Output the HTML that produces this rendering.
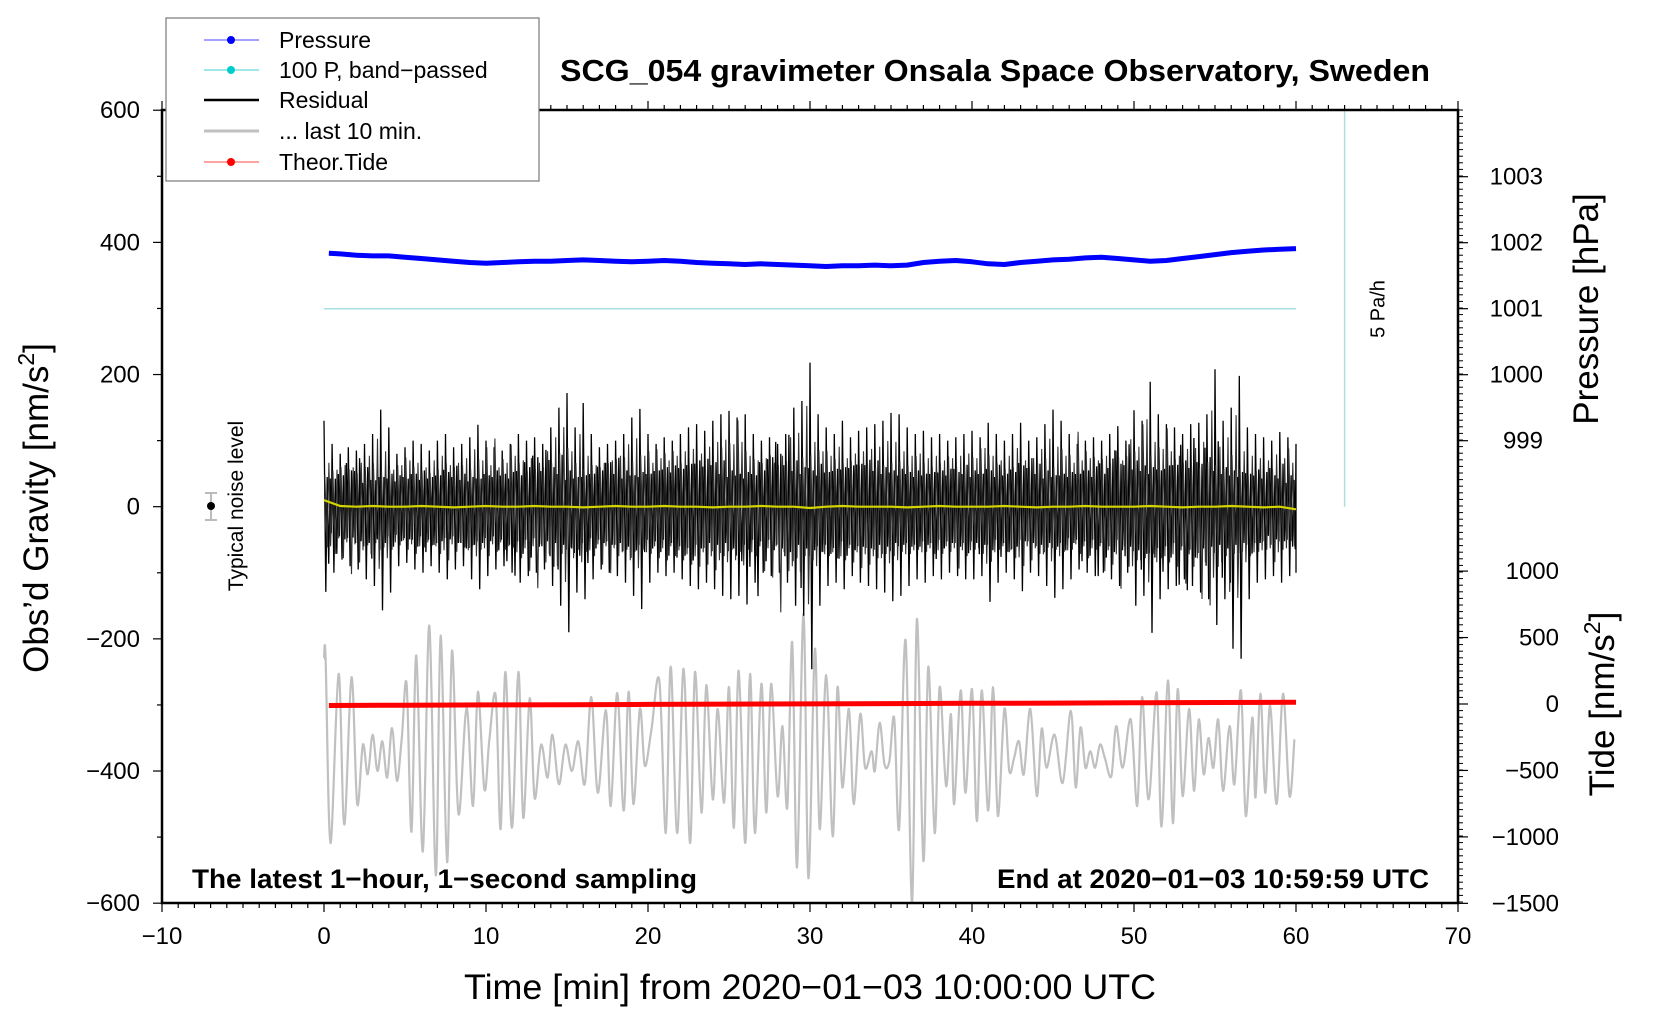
<!DOCTYPE html>
<html><head><meta charset="utf-8"><style>
html,body{margin:0;padding:0;background:#fff}
svg{display:block;font-family:"Liberation Sans",Arial,sans-serif}
</style></head><body>
<svg id="chart" width="1660" height="1020" viewBox="0 0 1660 1020" xmlns="http://www.w3.org/2000/svg">
<rect x="0" y="0" width="1660" height="1020" fill="#fff"/>
<g id="plot"></g>
</svg>
<script>
// ---- data ----
const xTicks = [-10,0,10,20,30,40,50,60,70];
const yTicks = [600,400,200,0,-200,-400,-600];
const pTicks = [999,1000,1001,1002,1003];
const tideTicks = [1000,500,0,-500,-1000,-1500];
// residual envelope every 0.5 min (gravity nm/s^2)
const resUp = [
130,95,80,90,85,95,110,147,120,80,
90,100,95,85,100,110,90,95,105,124,
100,90,85,95,110,100,105,95,120,150,
172,120,157,110,90,95,100,110,135,148,
110,95,105,100,110,120,125,115,130,140,
145,135,140,110,100,105,95,110,150,160,
218,140,120,110,130,105,115,120,125,130,
142,140,120,110,115,105,110,100,105,110,
115,105,127,110,100,110,127,100,105,125,
147,130,110,95,100,105,100,110,122,100,
146,130,189,140,125,120,110,125,127,140,
208,130,150,198,120,110,105,100,113,105,95];
const resDn = [
-129,-100,-80,-90,-95,-110,-120,-157,-130,-90,
-85,-95,-100,-90,-100,-110,-95,-90,-110,-125,
-105,-95,-90,-100,-115,-105,-100,-95,-120,-150,
-190,-130,-140,-110,-95,-100,-105,-115,-135,-155,
-115,-100,-105,-100,-110,-120,-125,-115,-125,-135,
-140,-135,-148,-115,-100,-105,-100,-115,-150,-165,
-246,-150,-120,-115,-125,-105,-115,-120,-125,-130,
-143,-135,-120,-110,-115,-105,-110,-100,-105,-110,
-110,-105,-144,-115,-100,-110,-128,-100,-105,-120,
-138,-125,-110,-95,-100,-105,-100,-110,-120,-100,
-150,-135,-191,-140,-125,-120,-110,-120,-130,-140,
-179,-140,-215,-230,-140,-115,-110,-105,-115,-105,-100];
// yellow smoothed residual every 1 min
const yellowVals = [10,1,0,1,0,0,1,0,-1,0,1,0,0,1,0,0,-1,0,1,0,0,1,0,0,-1,0,0,1,0,0,-2,0,1,0,0,0,-1,0,1,0,0,0,1,0,-1,0,0,1,0,0,0,1,0,-1,0,0,1,0,-1,0,-4];
// pressure every 1 min (hPa)
const pressVals = [1001.84,1001.83,1001.81,1001.80,1001.80,1001.78,1001.76,1001.74,1001.72,1001.70,
1001.69,1001.70,1001.71,1001.72,1001.72,1001.73,1001.74,1001.73,1001.72,1001.71,
1001.72,1001.73,1001.72,1001.70,1001.69,1001.68,1001.67,1001.68,1001.67,1001.66,
1001.65,1001.64,1001.65,1001.65,1001.66,1001.65,1001.66,1001.70,1001.72,1001.73,
1001.71,1001.68,1001.67,1001.70,1001.72,1001.74,1001.75,1001.77,1001.78,1001.76,
1001.74,1001.72,1001.73,1001.76,1001.79,1001.82,1001.85,1001.87,1001.89,1001.90,1001.91];
// theoretical tide every 5 min (nm/s^2, right axis)
const tideVals = [-11,-9,-7,-5,-3,-1,1,3,5,7,9,11,13];
// grey "last 10 min" series: times (min) and gravity values
const greyT = [0,0.1,0.4,0.9,1.25,1.7,2.05,2.4,2.7,3.0,3.3,3.6,3.9,4.2,4.5,4.8,5.1,5.4,5.7,6.1,6.5,6.9,7.2,7.6,7.9,8.3,8.8,9.2,9.5,9.9,10.2,10.6,10.9,11.2,11.6,12.0,12.3,12.7,13.0,13.4,13.8,14.1,14.5,14.9,15.3,15.7,16.1,16.5,16.9,17.4,17.7,18.1,18.5,18.8,19.1,19.5,19.8,20.2,20.7,21.1,21.4,21.8,22.2,22.6,22.9,23.3,23.6,24.0,24.3,24.7,25.0,25.3,25.6,26.0,26.3,26.6,27.0,27.3,27.6,28.0,28.3,28.6,28.9,29.2,29.6,29.9,30.3,30.6,31.0,31.4,31.7,32.0,32.4,32.7,33.1,33.4,33.8,34.0,34.3,34.6,34.9,35.2,35.5,35.9,36.3,36.6,37.0,37.3,37.7,38.0,38.4,38.7,38.9,39.3,39.6,40.0,40.3,40.6,41.0,41.3,41.6,42.0,42.3,42.6,42.9,43.2,43.6,44.0,44.3,44.6,45.1,45.6,46.1,46.4,46.7,47.0,47.3,47.6,47.9,48.2,48.6,48.9,49.3,49.8,50.2,50.5,50.9,51.4,51.7,52.1,52.4,52.7,53.0,53.4,53.7,54.0,54.3,54.6,54.9,55.2,55.5,55.9,56.2,56.6,56.9,57.3,57.5,57.8,58.1,58.4,58.8,59.2,59.6,59.9];
const greyV = [-230,-230,-509,-253,-481,-258,-450,-360,-405,-345,-400,-355,-410,-335,-415,-350,-268,-492,-225,-522,-180,-558,-195,-538,-218,-465,-305,-453,-280,-428,-355,-286,-488,-250,-486,-250,-471,-290,-441,-360,-410,-345,-420,-360,-400,-355,-420,-288,-433,-308,-453,-282,-460,-280,-450,-306,-392,-340,-263,-494,-242,-494,-245,-509,-250,-463,-270,-443,-306,-448,-273,-486,-248,-509,-253,-494,-268,-463,-268,-438,-332,-455,-205,-546,-162,-562,-215,-488,-255,-499,-273,-425,-306,-450,-314,-395,-370,-400,-327,-390,-385,-320,-488,-202,-600,-170,-536,-242,-494,-273,-423,-314,-450,-278,-433,-276,-476,-278,-460,-273,-468,-306,-400,-380,-355,-405,-306,-438,-336,-395,-345,-418,-309,-425,-334,-395,-370,-395,-360,-380,-408,-332,-395,-322,-453,-288,-443,-281,-484,-263,-479,-276,-438,-306,-430,-322,-405,-350,-395,-322,-430,-332,-420,-278,-468,-319,-440,-283,-433,-301,-450,-283,-438,-352];

// ---- scales ----
const X0=162, X1=1458, Y0=110, Y1=903;
const sx = t => X0 + (t+10)/80*(X1-X0);
const sy = g => 506.7 - g*0.6608;
const syP = p => 242.7 - (p-1002)*66;
const syT = v => 704 - v*0.1329;

const NS="http://www.w3.org/2000/svg";
const root=document.getElementById('plot');
function mk(tag, attrs, parent){const e=document.createElementNS(NS,tag);for(const k in attrs)e.setAttribute(k,attrs[k]);(parent||root).appendChild(e);return e;}
function txt(s, attrs, parent){const e=mk('text',attrs,parent);e.textContent=s;return e;}

let e;
e=mk('line',{x1:sx(0),x2:sx(60),y1:syP(1001),y2:syP(1001),stroke:'#a8e0e0','stroke-width':1.5});


e=mk('line',{x1:sx(63),x2:sx(63),y1:Y0,y2:sy(0),stroke:'#a8e0e0','stroke-width':1.5});


e=txt('5 Pa/h',{x:0,y:0,'font-size':20,'text-anchor':'middle',transform:`translate(${sx(63)+40},309) rotate(-90)`});



// grey last 10 min (smooth catmull-rom)
(function(){
  const pts=greyT.map((t,i)=>[sx(t),sy(greyV[i])]);
  let d=`M${pts[0][0]},${pts[0][1]}`;
  for(let i=0;i<pts.length-1;i++){
    const p0=pts[Math.max(0,i-1)],p1=pts[i],p2=pts[i+1],p3=pts[Math.min(pts.length-1,i+2)];
    const c1=[p1[0]+(p2[0]-p0[0])/6,p1[1]+(p2[1]-p0[1])/6];
    const c2=[p2[0]-(p3[0]-p1[0])/6,p2[1]-(p3[1]-p1[1])/6];
    d+=` C${c1[0].toFixed(1)},${c1[1].toFixed(1)} ${c2[0].toFixed(1)},${c2[1].toFixed(1)} ${p2[0].toFixed(1)},${p2[1].toFixed(1)}`;
  }
  const g=mk('path',{d:d,fill:'none',stroke:'#c0c0c0','stroke-width':2.2});
  
  
})();

// residual zigzag
(function(){
  const n=resUp.length;
  const pts=[];
  for(let i=0;i<n;i++){
    const t=i*0.5;
    const a=resUp[(i+3)%n]/resUp[i], b=resDn[(i+7)%n]/resDn[i];
    pts.push(`${sx(t).toFixed(1)},${sy(resUp[i]).toFixed(1)}`);
    pts.push(`${sx(Math.min(60,t+0.11)).toFixed(1)},${sy(resDn[i]).toFixed(1)}`);
    if(i<n-1){
      pts.push(`${sx(t+0.2).toFixed(1)},${sy(resUp[i]*0.5*a).toFixed(1)}`);
      pts.push(`${sx(t+0.29).toFixed(1)},${sy(resDn[i]*0.55*b).toFixed(1)}`);
      pts.push(`${sx(t+0.38).toFixed(1)},${sy(resUp[(i+5)%n]*0.45).toFixed(1)}`);
      pts.push(`${sx(t+0.45).toFixed(1)},${sy(resDn[(i+2)%n]*0.5).toFixed(1)}`);
    }
  }
  const r=mk('polyline',{points:pts.join(' '),fill:'none',stroke:'#000','stroke-width':1.3});
  
  
  const pts2=[];
  for(let i=0;i<n-1;i++){
    const t=i*0.5+0.05;
    pts2.push(`${sx(t).toFixed(1)},${sy(resUp[(i+9)%n]*0.6).toFixed(1)}`);
    pts2.push(`${sx(t+0.15).toFixed(1)},${sy(resDn[(i+4)%n]*0.65).toFixed(1)}`);
    pts2.push(`${sx(t+0.25).toFixed(1)},${sy(resUp[i+1]*0.7).toFixed(1)}`);
    pts2.push(`${sx(t+0.36).toFixed(1)},${sy(resDn[i+1]*0.6).toFixed(1)}`);
  }
  const r2=mk('polyline',{points:pts2.join(' '),fill:'none',stroke:'#333','stroke-width':1.1});
  
  
})();

e=mk('polyline',{points:yellowVals.map((v,i)=>`${sx(i)},${sy(v).toFixed(1)}`).join(' '),fill:'none',stroke:'#d4d400','stroke-width':2.2});



e=mk('polyline',{points:pressVals.map((v,i)=>`${sx(Math.max(i,0.3))},${syP(v).toFixed(1)}`).join(' '),fill:'none',stroke:'#0000ff','stroke-width':5,'stroke-linejoin':'round'});



e=mk('polyline',{points:tideVals.map((v,i)=>`${sx(Math.max(i*5,0.3))},${syT(v).toFixed(1)}`).join(' '),fill:'none',stroke:'#ff0000','stroke-width':5});



e=mk('rect',{x:X0,y:Y0,width:X1-X0,height:Y1-Y0,fill:'none',stroke:'#000','stroke-width':2.5});



for(let m=-10;m<=70;m++){
  const major=m%10===0, x=sx(m);
  mk('line',{x1:x,x2:x,y1:Y1,y2:Y1+(major?9:5),stroke:'#000','stroke-width':1.2});
  mk('line',{x1:x,x2:x,y1:Y0,y2:Y0-(major?9:5),stroke:'#000','stroke-width':1.2});
}
xTicks.forEach(v=>{
  const t=txt(String(v).replace('-','\u2212'),{x:sx(v),y:944,'font-size':24,'text-anchor':'middle'});
  
  
});
for(let g=-600;g<=600;g+=100){
  const y=sy(g), major=g%200===0;
  mk('line',{x1:X0,x2:X0-(major?9:5),y1:y,y2:y,stroke:'#000','stroke-width':1.2});
}
yTicks.forEach(v=>{
  const t=txt(String(v).replace('-','\u2212'),{x:140,y:sy(v)+8,'font-size':24,'text-anchor':'end'});
  
  
});
for(let y=Y0;y<=Y1;y+=6.6){mk('line',{x1:X1,x2:X1+5,y1:y,y2:y,stroke:'#000','stroke-width':1});}
pTicks.forEach(v=>{
  mk('line',{x1:X1,x2:X1+10,y1:syP(v),y2:syP(v),stroke:'#000','stroke-width':1.2});
  const t=txt(String(v),{x:1543,y:syP(v)+8,'font-size':24,'text-anchor':'end'});
  
  
});
tideTicks.forEach(v=>{
  mk('line',{x1:X1,x2:X1+10,y1:syT(v),y2:syT(v),stroke:'#000','stroke-width':1.2});
  const t=txt(String(v).replace('-','\u2212'),{x:1559,y:syT(v)+8,'font-size':24,'text-anchor':'end'});
  
  
});
</script>
<svg style="position:absolute;left:0;top:0" width="1660" height="1020" viewBox="0 0 1660 1020" xmlns="http://www.w3.org/2000/svg" font-family="Liberation Sans, Arial, sans-serif">
<text x="995" y="81" font-size="31" font-weight="bold" text-anchor="middle" textLength="870" lengthAdjust="spacingAndGlyphs">SCG_054 gravimeter Onsala Space Observatory, Sweden</text>
<text x="810" y="999" font-size="35" text-anchor="middle" textLength="692" lengthAdjust="spacingAndGlyphs">Time [min] from 2020−01−03 10:00:00 UTC</text>
<text transform="translate(48,508) rotate(-90)" font-size="35" text-anchor="middle">Obs’d Gravity [nm/s<tspan font-size="23" dy="-14">2</tspan><tspan dy="14">]</tspan></text>
<text transform="translate(1598,309) rotate(-90)" font-size="35" text-anchor="middle">Pressure [hPa]</text>
<text transform="translate(1614,704) rotate(-90)" font-size="35" text-anchor="middle">Tide [nm/s<tspan font-size="23" dy="-14">2</tspan><tspan dy="14">]</tspan></text>
<text x="192" y="888" font-size="27" font-weight="bold" textLength="505" lengthAdjust="spacingAndGlyphs">The latest 1−hour, 1−second sampling</text>
<text x="1429" y="888" font-size="27" font-weight="bold" text-anchor="end" textLength="432" lengthAdjust="spacingAndGlyphs">End at 2020−01−03 10:59:59 UTC</text>
<g>
<line x1="211" x2="211" y1="493" y2="520" stroke="#bbb" stroke-width="2"/>
<line x1="205" x2="217" y1="493" y2="493" stroke="#bbb" stroke-width="2"/>
<line x1="205" x2="217" y1="520" y2="520" stroke="#bbb" stroke-width="2"/>
<circle cx="211" cy="506" r="4" fill="#000"/>
</g>
<text transform="translate(243,506) rotate(-90)" font-size="21" text-anchor="middle">Typical noise level</text>
<g>
<rect x="166" y="18" width="373" height="163" fill="#fff" stroke="#777" stroke-width="1.2"/>
<g><line x1="204" x2="259" y1="40" y2="40" stroke="#4444ff" stroke-width="1"/><circle cx="231" cy="40" r="4" fill="#0000ff"/><text x="279" y="48" font-size="23">Pressure</text></g>
<g><line x1="204" x2="259" y1="70" y2="70" stroke="#40d0d0" stroke-width="1"/><circle cx="231" cy="70" r="4" fill="#00cccc"/><text x="279" y="78" font-size="23">100 P, band−passed</text></g>
<g><line x1="204" x2="259" y1="100" y2="100" stroke="#000" stroke-width="2.5"/><text x="279" y="108" font-size="23">Residual</text></g>
<g><line x1="204" x2="259" y1="131" y2="131" stroke="#c0c0c0" stroke-width="3"/><text x="279" y="139" font-size="23">... last 10 min.</text></g>
<g><line x1="204" x2="259" y1="162" y2="162" stroke="#ff4444" stroke-width="1"/><circle cx="231" cy="162" r="4" fill="#ff0000"/><text x="279" y="170" font-size="23">Theor.Tide</text></g>
</g>
</svg>
</body></html>
